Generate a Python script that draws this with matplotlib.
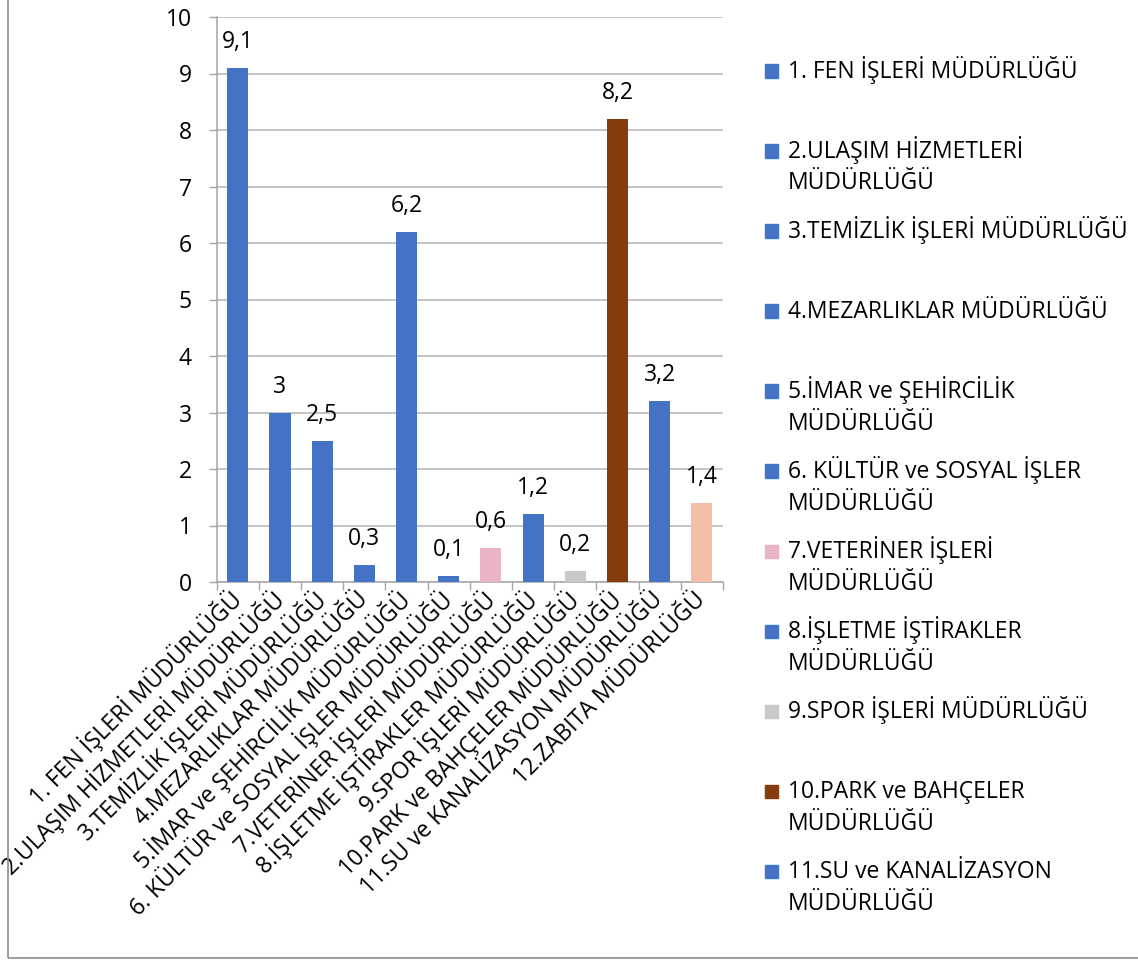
import numpy as np
import matplotlib.pyplot as plt
from matplotlib.patches import Rectangle

plt.rcParams['font.family'] = ['Open Sans', 'DejaVu Sans']

# Veriler
categories = [
    "1. FEN İŞLERİ MÜDÜRLÜĞÜ",
    "2.ULAŞIM HİZMETLERİ MÜDÜRLÜĞÜ",
    "3.TEMİZLİK İŞLERİ MÜDÜRLÜĞÜ",
    "4.MEZARLIKLAR MÜDÜRLÜĞÜ",
    "5.İMAR ve ŞEHİRCİLİK MÜDÜRLÜĞÜ",
    "6. KÜLTÜR ve SOSYAL İŞLER MÜDÜRLÜĞÜ",
    "7.VETERİNER İŞLERİ MÜDÜRLÜĞÜ",
    "8.İŞLETME İŞTİRAKLER MÜDÜRLÜĞÜ",
    "9.SPOR İŞLERİ MÜDÜRLÜĞÜ",
    "10.PARK ve BAHÇELER MÜDÜRLÜĞÜ",
    "11.SU ve KANALİZASYON MÜDÜRLÜĞÜ",
    "12.ZABITA MÜDÜRLÜĞÜ",
]
values = [9.1, 3, 2.5, 0.3, 6.2, 0.1, 0.6, 1.2, 0.2, 8.2, 3.2, 1.4]
# lejantta görünen ilk 11 kalem (satır kırılımlı)
legend_labels = [
    "1. FEN İŞLERİ MÜDÜRLÜĞÜ",
    "2.ULAŞIM HİZMETLERİ\nMÜDÜRLÜĞÜ",
    "3.TEMİZLİK İŞLERİ MÜDÜRLÜĞÜ",
    "4.MEZARLIKLAR MÜDÜRLÜĞÜ",
    "5.İMAR ve ŞEHİRCİLİK\nMÜDÜRLÜĞÜ",
    "6. KÜLTÜR ve SOSYAL İŞLER\nMÜDÜRLÜĞÜ",
    "7.VETERİNER İŞLERİ\nMÜDÜRLÜĞÜ",
    "8.İŞLETME İŞTİRAKLER\nMÜDÜRLÜĞÜ",
    "9.SPOR İŞLERİ MÜDÜRLÜĞÜ",
    "10.PARK ve BAHÇELER\nMÜDÜRLÜĞÜ",
    "11.SU ve KANALİZASYON\nMÜDÜRLÜĞÜ",
]

BLUE = "#4472C4"
colors = [BLUE, BLUE, BLUE, BLUE, BLUE, BLUE, "#E9B4C6", BLUE, "#C8C8C8",
          "#843C0C", BLUE, "#F4BEA9"]

FS = 16.5
W, H = 1138, 961
fig = plt.figure(figsize=(W / 100, H / 100), dpi=100)
ax = fig.add_axes([216.7 / W, 1 - 582 / H, (723 - 216.7) / W, 565 / H])

x = np.arange(len(categories))
bars = ax.bar(x, values, width=0.5, color=colors, zorder=3)

# Etiketler (virgüllü ondalık)
def fmt(v):
    return f"{v:g}".replace(".", ",")

ax.bar_label(bars, labels=[fmt(v) for v in values], padding=10, fontsize=FS)

ax.set_xlim(-0.5, len(categories) - 0.5)
ax.set_ylim(0, 10)
ax.set_yticks(range(0, 11))
ax.tick_params(axis='y', labelsize=FS, length=6, color='#A6A6A6', width=1, pad=12)
ax.grid(axis='y', color='#B4B4B4', lw=1.1, zorder=0)

ax.set_xticks(x)
ax.set_xticklabels(categories, rotation=45, ha='right', va='center',
                   rotation_mode='anchor', fontsize=FS)
ax.tick_params(axis='x', which='major', length=0, pad=10)
ax.set_xticks(np.arange(-0.5, len(categories), 1), minor=True)
ax.tick_params(axis='x', which='minor', length=6, color='#A6A6A6', width=1)

for s in ['top', 'right']:
    ax.spines[s].set_visible(False)
for s in ['left', 'bottom']:
    ax.spines[s].set_color('#A6A6A6')
    ax.spines[s].set_linewidth(1.1)

# Lejant (12. kalem grafikte kesildiği için görünmüyor)
y0, step, line_h = 71, 80, 31
for i, lab in enumerate(legend_labels):
    yc = y0 + i * step
    fig.patches.append(Rectangle((765 / W, 1 - (yc + 6.5) / H), 13 / W, 13 / H,
                                 transform=fig.transFigure, color=colors[i]))
    for j, line in enumerate(lab.split("\n")):
        fig.text(788 / W, 1 - (yc + 7.5 + j * line_h) / H, line, fontsize=FS,
                 va='baseline', ha='left')

# Çerçeve
fig.patches.append(Rectangle((8 / W, 3 / H), 1.2, 1.2, transform=fig.transFigure,
                             fill=False, edgecolor='#8C8C8C', lw=1.2))

plt.savefig("out.png", dpi=100)
